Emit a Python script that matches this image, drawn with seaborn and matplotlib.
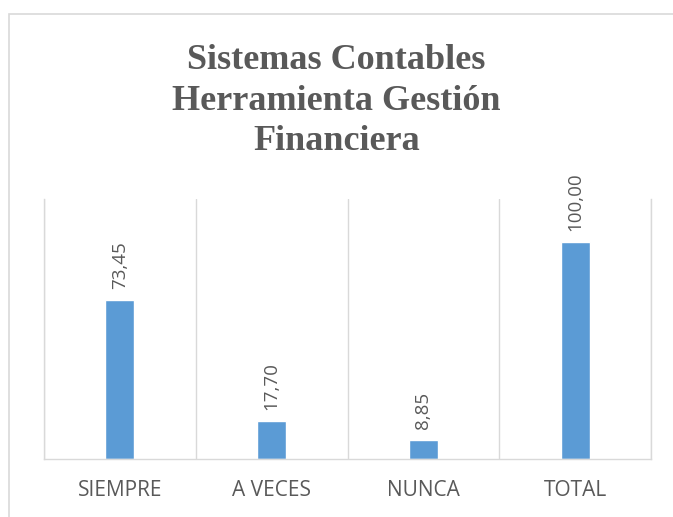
import matplotlib
matplotlib.use("Agg")
import matplotlib.pyplot as plt
import seaborn as sns
import pandas as pd
from matplotlib.patches import Rectangle

categories = ["SIEMPRE", "A VECES", "NUNCA", "TOTAL"]
values = [73.45, 17.70, 8.85, 100.00]
value_labels = ["73,45", "17,70", "8,85", "100,00"]
title = "Sistemas Contables\nHerramienta Gestión\nFinanciera"

df = pd.DataFrame({"categoria": categories, "valor": values})

sns.set_theme(style="white")
plt.rcParams["font.family"] = ["Open Sans", "DejaVu Sans"]

gray_txt = "#595959"
grid_col = "#d9d9d9"
bar_col = "#5b9bd5"

fig = plt.figure(figsize=(6.73, 5.17), dpi=100)
ax = fig.add_axes([44 / 673, 58 / 517, 607 / 673, 260 / 517])

sns.barplot(data=df, x="categoria", y="valor", color=bar_col, width=0.19,
            saturation=1, ax=ax)

ax.set_ylim(0, 120)
ax.set_xlim(-0.5, len(categories) - 0.5)
ax.set_yticks([])
ax.set_xlabel("")
ax.set_ylabel("")

# vertical gridlines between categories
ax.set_xticks([i - 0.5 for i in range(len(categories) + 1)], minor=True)
ax.grid(which="minor", axis="x", color=grid_col, linewidth=1)
ax.tick_params(axis="x", which="both", length=0, pad=15)
ax.set_xticks(range(len(categories)))
ax.set_xticklabels(categories, fontsize=15, color=gray_txt)

ax.spines["top"].set_visible(False)
for side in ["left", "right", "bottom"]:
    ax.spines[side].set_color(grid_col)
    ax.spines[side].set_linewidth(1)

for i, (v, lab) in enumerate(zip(values, value_labels)):
    ax.annotate(lab, (i, v), xytext=(0, 8), textcoords="offset points",
                rotation=90, ha="center", va="bottom", fontsize=13.5,
                color=gray_txt)

fig.text(0.5, 1 - 101 / 517, title, ha="center", va="center",
         fontsize=26, fontweight="bold", color=gray_txt,
         family=["Liberation Serif", "DejaVu Serif"], linespacing=1.3)

# outer chart frame (cut off by the screenshot)
fig.patches.append(Rectangle((9 / 673, -0.1), 1.2, 1 - 14 / 517 + 0.1,
                             transform=fig.transFigure, fill=False,
                             edgecolor=grid_col, linewidth=1.2))

fig.savefig("out.png", dpi=100)
